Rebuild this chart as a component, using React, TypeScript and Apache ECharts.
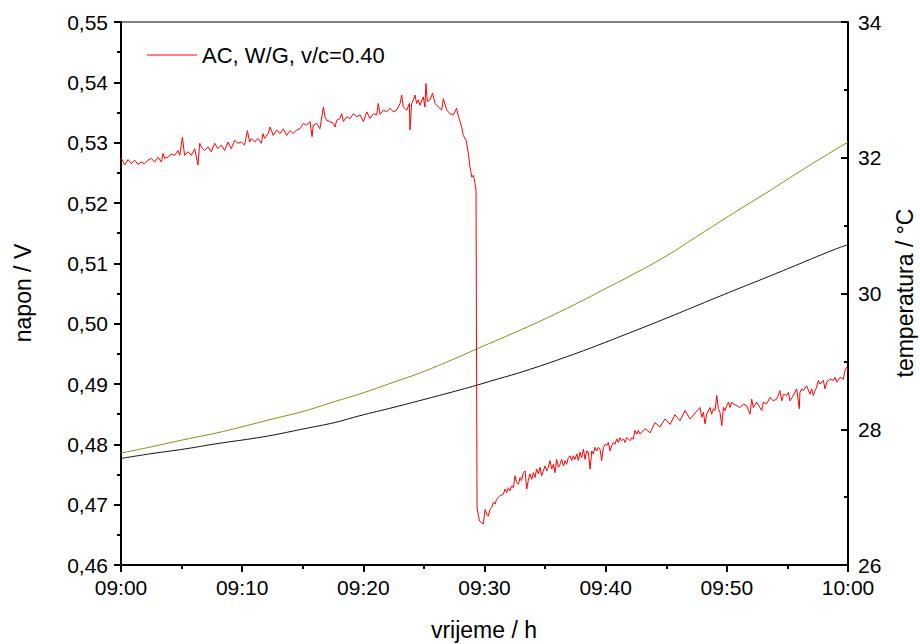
import React, { useEffect, useRef } from "react";
import * as echarts from "echarts";

// ---- Data ----
const xTickLabels = ["09:00", "09:10", "09:20", "09:30", "09:40", "09:50", "10:00"];
const legendName = "AC, W/G, v/c=0.40";

// Voltage (left axis), time in seconds after 09:00
const voltageTimeSec = [
  0, 2, 18, 35, 51, 68, 84, 101, 117, 134, 150, 167, 183, 200, 208, 216, 233, 249, 266, 282, 291, 304, 315, 332, 348, 365, 381, 390, 398, 414,
  431, 447, 464, 480, 497, 513, 530, 546, 563, 579, 596, 612, 626, 637, 645, 662, 678, 695, 703, 711, 728, 738, 754, 771, 787, 804, 820, 837, 853, 870,
  886, 903, 919, 936, 946, 952, 969, 985, 1002, 1010, 1018, 1035, 1051, 1060, 1068, 1084, 1093, 1101, 1118, 1134, 1151, 1167, 1184, 1200, 1217, 1233, 1250, 1266, 1274, 1283,
  1299, 1316, 1332, 1349, 1365, 1382, 1390, 1398, 1415, 1428, 1431, 1439, 1448, 1456, 1464, 1472, 1481, 1497, 1505, 1510, 1517, 1530, 1543, 1555, 1572, 1588, 1596, 1613, 1629, 1646,
  1662, 1671, 1679, 1687, 1695, 1709, 1720, 1728, 1737, 1745, 1753, 1758, 1763, 1775, 1786, 1794, 1803, 1811, 1819, 1827, 1836, 1844, 1852, 1860, 1877, 1893, 1902, 1910, 1918, 1926,
  1935, 1943, 1951, 1959, 1968, 1976, 1984, 1992, 2001, 2009, 2017, 2025, 2034, 2042, 2050, 2058, 2067, 2075, 2083, 2091, 2100, 2108, 2116, 2124, 2133, 2141, 2149, 2157, 2166, 2174,
  2182, 2191, 2199, 2207, 2215, 2224, 2232, 2240, 2248, 2257, 2265, 2273, 2281, 2290, 2298, 2306, 2314, 2323, 2331, 2339, 2347, 2356, 2364, 2372, 2380, 2389, 2397, 2405, 2413, 2422,
  2430, 2438, 2446, 2455, 2463, 2471, 2479, 2488, 2496, 2504, 2512, 2521, 2529, 2537, 2545, 2554, 2562, 2570, 2595, 2620, 2644, 2669, 2694, 2719, 2743, 2768, 2793, 2818, 2843, 2867,
  2876, 2884, 2892, 2900, 2917, 2925, 2933, 2942, 2950, 2958, 2966, 2975, 2983, 2991, 2999, 3008, 3016, 3024, 3032, 3049, 3065, 3082, 3098, 3115, 3123, 3131, 3148, 3164, 3173, 3181,
  3197, 3214, 3230, 3247, 3263, 3272, 3280, 3296, 3305, 3313, 3329, 3346, 3359, 3362, 3371, 3379, 3395, 3412, 3420, 3428, 3437, 3445, 3453, 3461, 3478, 3486, 3495, 3511, 3528, 3536,
  3544, 3561, 3577, 3585, 3594, 3600,
];
const voltageValues = [
  0.5272, 0.5274, 0.5263, 0.5272, 0.5265, 0.5271, 0.5264, 0.5268, 0.5265, 0.5271, 0.5274, 0.5268, 0.5276, 0.5268, 0.5282, 0.5274, 0.5276, 0.5281, 0.5279, 0.5287, 0.5279, 0.5309, 0.5279, 0.5285, 0.5279, 0.529, 0.5263, 0.5299, 0.5293, 0.5287,
  0.5293, 0.5285, 0.5299, 0.529, 0.5296, 0.5287, 0.5301, 0.529, 0.5304, 0.5299, 0.5301, 0.5296, 0.532, 0.5301, 0.5307, 0.5301, 0.5307, 0.5299, 0.5315, 0.5307, 0.5315, 0.5326, 0.5312, 0.5321, 0.5315, 0.5323, 0.5312, 0.532, 0.5315, 0.5321,
  0.5323, 0.5332, 0.5329, 0.5335, 0.531, 0.5329, 0.5332, 0.5323, 0.5359, 0.5343, 0.5337, 0.5335, 0.5332, 0.5326, 0.5337, 0.534, 0.5348, 0.5335, 0.5343, 0.534, 0.5348, 0.5343, 0.5346, 0.5335, 0.5351, 0.534, 0.5348, 0.5346, 0.5365, 0.5347,
  0.5354, 0.5351, 0.5357, 0.5351, 0.5354, 0.5365, 0.5379, 0.5359, 0.5354, 0.5365, 0.5321, 0.5365, 0.5371, 0.5379, 0.5365, 0.5371, 0.5362, 0.5376, 0.5359, 0.5398, 0.5368, 0.5371, 0.5382, 0.5365, 0.5359, 0.5354, 0.5373, 0.5354, 0.5348, 0.5346,
  0.5357, 0.5343, 0.5335, 0.5326, 0.5312, 0.5304, 0.5282, 0.526, 0.5243, 0.5246, 0.5232, 0.5221, 0.4695, 0.4673, 0.467, 0.4668, 0.4692, 0.4684, 0.4681, 0.4692, 0.4695, 0.4704, 0.4701, 0.4709, 0.4715, 0.4717, 0.4726, 0.472, 0.4728, 0.4723,
  0.4731, 0.4728, 0.4748, 0.4737, 0.4734, 0.4745, 0.474, 0.4753, 0.4756, 0.4726, 0.474, 0.4751, 0.4742, 0.4753, 0.4745, 0.4759, 0.4751, 0.4762, 0.4748, 0.4756, 0.4764, 0.4756, 0.4762, 0.4773, 0.4759, 0.4767, 0.4753, 0.4775, 0.4762, 0.4767,
  0.4775, 0.4764, 0.4773, 0.4767, 0.4778, 0.4781, 0.4773, 0.4781, 0.4775, 0.4784, 0.4773, 0.4787, 0.4778, 0.4792, 0.4775, 0.4789, 0.4787, 0.4759, 0.4789, 0.4784, 0.4795, 0.4789, 0.4795, 0.4792, 0.4773, 0.4795, 0.48, 0.4798, 0.4803, 0.4789,
  0.4798, 0.4803, 0.48, 0.4809, 0.4803, 0.4811, 0.4806, 0.4809, 0.4803, 0.4811, 0.4809, 0.4806, 0.4811, 0.4809, 0.4823, 0.4817, 0.4823, 0.4817, 0.4826, 0.4819, 0.4836, 0.4829, 0.4842, 0.4833, 0.4849, 0.4839, 0.4856, 0.4842, 0.4852, 0.4861,
  0.4845, 0.4853, 0.4834, 0.485, 0.4861, 0.485, 0.4859, 0.4856, 0.4881, 0.4859, 0.4853, 0.4831, 0.4861, 0.4856, 0.4864, 0.487, 0.4861, 0.487, 0.4867, 0.4864, 0.4861, 0.4867, 0.4864, 0.485, 0.4875, 0.4861, 0.487, 0.4861, 0.4856, 0.487,
  0.4867, 0.4878, 0.4872, 0.4875, 0.4889, 0.4872, 0.4883, 0.4881, 0.4886, 0.4872, 0.4881, 0.4892, 0.4859, 0.4886, 0.4892, 0.4889, 0.4897, 0.4883, 0.4892, 0.4881, 0.4889, 0.4895, 0.4906, 0.49, 0.4906, 0.4892, 0.4903, 0.4908, 0.4906, 0.4911,
  0.4903, 0.4911, 0.4908, 0.4922, 0.4928, 0.4922,
];

// Temperature curves (right axis)
const tempOliveTimeSec = [0, 149, 317, 480, 644, 763, 911, 1060, 1183, 1347, 1481, 1629, 1798, 1961, 2124, 2288, 2372, 2535, 2704, 2867, 3031, 3199, 3362, 3526, 3600];
const tempOliveValues = [27.65, 27.74, 27.85, 27.95, 28.07, 28.16, 28.27, 28.41, 28.52, 28.69, 28.83, 29.01, 29.23, 29.44, 29.66, 29.9, 30.03, 30.28, 30.56, 30.87, 31.18, 31.49, 31.8, 32.1, 32.23];
const tempBlackTimeSec = [0, 149, 317, 480, 644, 763, 911, 1060, 1183, 1347, 1515, 1679, 1763, 1842, 1991, 2209, 2372, 2535, 2704, 2867, 3031, 3199, 3362, 3526, 3600];
const tempBlackValues = [27.57, 27.64, 27.71, 27.79, 27.86, 27.92, 28.01, 28.1, 28.2, 28.32, 28.45, 28.58, 28.65, 28.72, 28.85, 29.07, 29.25, 29.44, 29.64, 29.84, 30.04, 30.24, 30.44, 30.64, 30.72];

const FONT = "'Liberation Sans', Arial, sans-serif";

const zip = (xs: number[], ys: number[]) => xs.map((x, i) => [x, ys[i]]);

export default function App() {
  const ref = useRef<HTMLDivElement>(null);
  useEffect(() => {
    if (!ref.current) return;
    const chart = echarts.init(ref.current, undefined, { renderer: "svg" });
    const axisLine = { show: true, lineStyle: { color: "#000", width: 2 } };
    const titleStyle = (text: string) => ({
      text,
      font: `23px ${FONT}`,
      fill: "#000",
      align: "center",
      verticalAlign: "middle",
      textAlign: "center",
      textVerticalAlign: "middle",
    });
    chart.setOption({
      animation: false,
      backgroundColor: "#fff",
      grid: { left: 121, right: 72, top: 22, bottom: 79, show: true, borderColor: "#000", borderWidth: 1, backgroundColor: "transparent" },
      legend: {
        show: true,
        left: 147,
        top: 44,
        padding: 0,
        itemWidth: 50,
        itemHeight: 1.2,
        icon: "rect",
        data: [legendName],
        textStyle: { fontFamily: FONT, fontSize: 22, color: "#000" },
      },
      xAxis: {
        type: "value",
        min: 0,
        max: 3600,
        interval: 600,
        axisLine,
        axisTick: { show: true, inside: false, length: 7, lineStyle: { color: "#000", width: 2 } },
        minorTick: { show: true, splitNumber: 2, length: 4, lineStyle: { color: "#000", width: 2 } },
        splitLine: { show: false },
        axisLabel: {
          margin: 12,
          fontFamily: FONT,
          fontSize: 21,
          color: "#000",
          formatter: (v: number) => xTickLabels[Math.round(v / 600)] ?? "",
        },
      },
      yAxis: [
        {
          type: "value",
          position: "left",
          min: 0.46,
          max: 0.55,
          interval: 0.01,
          axisLine,
          axisTick: { show: true, inside: false, length: 7, lineStyle: { color: "#000", width: 2 } },
          minorTick: { show: true, splitNumber: 2, length: 4, lineStyle: { color: "#000", width: 2 } },
          splitLine: { show: false },
          axisLabel: {
            margin: 13,
            fontFamily: FONT,
            fontSize: 21,
            color: "#000",
            formatter: (v: number) => v.toFixed(2).replace(".", ","),
          },
        },
        {
          type: "value",
          position: "right",
          min: 26,
          max: 34,
          interval: 2,
          axisLine,
          axisTick: { show: true, inside: true, length: 7, lineStyle: { color: "#000", width: 2 } },
          minorTick: { show: true, splitNumber: 2, length: 4, lineStyle: { color: "#000", width: 2 } },
          splitLine: { show: false },
          axisLabel: { margin: 10, fontFamily: FONT, fontSize: 21, color: "#000" },
        },
      ],
      graphic: [
        { type: "text", x: 23, y: 293, rotation: Math.PI / 2, style: titleStyle("napon / V") },
        { type: "text", x: 905, y: 293, rotation: Math.PI / 2, style: titleStyle("temperatura / °C") },
        { type: "text", x: 484, y: 630, style: titleStyle("vrijeme / h") },
      ],
      series: [
        {
          name: "olive",
          type: "line",
          yAxisIndex: 1,
          data: zip(tempOliveTimeSec, tempOliveValues),
          showSymbol: false,
          symbol: "none",
          smooth: 0.4,
          lineStyle: { color: "#8c8c14", width: 1 },
          z: 2,
        },
        {
          name: "black",
          type: "line",
          yAxisIndex: 1,
          data: zip(tempBlackTimeSec, tempBlackValues),
          showSymbol: false,
          symbol: "none",
          smooth: 0.4,
          lineStyle: { color: "#111", width: 1 },
          z: 2,
        },
        {
          name: legendName,
          type: "line",
          yAxisIndex: 0,
          data: zip(voltageTimeSec, voltageValues),
          showSymbol: false,
          symbol: "none",
          itemStyle: { color: "#ff0000" },
          lineStyle: { color: "#ff0000", width: 1 },
          z: 3,
        },
      ],
    });
    return () => chart.dispose();
  }, []);
  return <div ref={ref} style={{ width: 920, height: 644, position: "fixed", left: 0, top: 0 }} />;
}
